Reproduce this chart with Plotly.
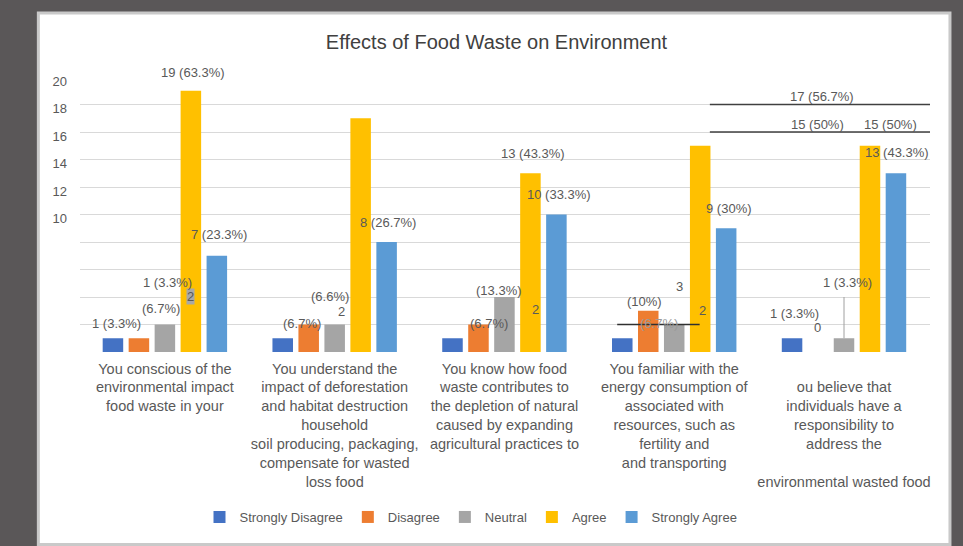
import plotly.graph_objects as go

# ---------------- data ----------------
categories = [
    "You conscious of the<br>environmental impact<br>food waste in your",
    "You understand the<br>impact of deforestation<br>and habitat destruction<br>household<br>soil producing, packaging,<br>compensate for wasted<br>loss food",
    "You know how food<br>waste contributes to<br>the depletion of natural<br>caused by expanding<br>agricultural practices to",
    "You familiar with the<br>energy consumption of<br>associated with<br>resources, such as<br>fertility and<br>and transporting",
    " <br>ou believe that<br>individuals have a<br>responsibility to<br>address the<br> <br>environmental wasted food",
]
series_names = ["Strongly Disagree", "Disagree", "Neutral", "Agree", "Strongly Agree"]
strongly_disagree = [1, 1, 1, 1, 1]
disagree = [1, 2, 2, 3, 0]
neutral = [2, 2, 4, 2, 1]
agree = [19, 17, 13, 15, 15]
strongly_agree = [7, 8, 10, 9, 13]
series_values = [strongly_disagree, disagree, neutral, agree, strongly_agree]

y_tick_values = [0, 2, 4, 6, 8, 10, 12, 14, 16, 18, 20]
y_tick_labels = ["", "", "", "", "", "10", "12", "14", "16", "18", "20"]

title_text = "Effects of Food Waste on Environment"

# data labels as they appear: (group, series, text)
bar_labels = [
    (0, 0, "1 (3.3%)"), (0, 2, "(6.7%)"), (0, 2, "2"), (0, 1, "1 (3.3%)"),
    (0, 4, "7 (23.3%)"), (0, 3, "19 (63.3%)"),
    (1, 1, "(6.7%)"), (1, 2, "(6.6%)"), (1, 2, "2"), (1, 4, "8 (26.7%)"),
    (1, 3, "17 (56.7%)"),
    (2, 1, "(6.7%)"), (2, 2, "(13.3%)"), (2, 1, "2"), (2, 3, "13 (43.3%)"),
    (2, 4, "10 (33.3%)"),
    (3, 1, "(10%)"), (3, 1, "3"), (3, 2, "2"), (3, 2, "(6.7%)"),
    (3, 4, "9 (30%)"), (3, 3, "15 (50%)"),
    (4, 0, "1 (3.3%)"), (4, 1, "0"), (4, 2, "1 (3.3%)"), (4, 3, "15 (50%)"),
    (4, 4, "13 (43.3%)"),
]
# pixel nudges of each label (dx, dy above the bar top)
label_nudges = [
    (4, 15), (-4, 16), (26, 28), (29, 56), (2, 21), (2, 18),
    (-7, 1), (-5, 28), (7, 13), (1, 20), (461, 22),
    (11, 1), (-5, 7), (57, 15), (3, 20), (3, 20),
    (-4, 9), (31, 24), (28, 14), (-15, 1), (3, 20), (117, 21),
    (2, 25), (-1, 25), (3, 56), (20, 21), (1, 21),
]

colors = ["#4472C4", "#ED7D31", "#A5A5A5", "#FFC000", "#5B9BD5"]
FONT = "Liberation Sans, Arial, sans-serif"
TXT = "#595959"
SLOT = 26  # pixel pitch of bars within a group

fig = go.Figure()
for name, vals, col in zip(series_names, series_values, colors):
    fig.add_trace(go.Bar(name=name, x=categories, y=vals, marker_color=col,
                         marker_line_width=0))

annotations = []
for i, ((g, s, txt), (dx, dy)) in enumerate(zip(bar_labels, label_nudges)):
    faded = (g == 3 and txt == "(6.7%)")
    boxed = (i == 2)
    annotations.append(dict(
        x=categories[g], y=series_values[s][g], xref="x", yref="y",
        text=txt, showarrow=False, xshift=(s - 2) * SLOT + dx, yshift=dy,
        bgcolor="#a8a8a8" if boxed else "rgba(0,0,0,0)", borderpad=0,
        font=dict(family=FONT, size=13, color="#9a9a9a" if faded else TXT),
    ))

shapes = [
    # white chart panel inside the dark frame
    dict(type="rect", xref="paper", yref="paper", x0=-0.049, x1=1.0235,
         y0=-0.70, y1=1.233, fillcolor="white", line=dict(color="#c9c9c9", width=3),
         layer="below"),
    # dark leader / underline segments
    dict(type="line", xref="paper", yref="y", x0=0.741, x1=1.0, y0=18, y1=18,
         line=dict(color="#404040", width=1.3)),
    dict(type="line", xref="paper", yref="y", x0=0.741, x1=1.0, y0=16, y1=16,
         line=dict(color="#404040", width=1.3)),
    dict(type="line", xref="paper", yref="y", x0=0.632, x1=0.729, y0=2, y1=2,
         line=dict(color="#303030", width=1.3)),
    dict(type="line", xref="x", yref="y", x0=categories[4], x1=categories[4],
         y0=neutral[4], y1=4, line=dict(color="#a0a0a0", width=1)),
]

fig.update_layout(
    width=963, height=546,
    margin=dict(l=80, r=33, t=77, b=194, autoexpand=False),
    paper_bgcolor="#5a5758", plot_bgcolor="rgba(0,0,0,0)",
    barmode="group", bargap=0.235, bargroupgap=0.21,
    font=dict(family=FONT, color=TXT),
    title=dict(text=title_text, x=0.49, xref="paper", xanchor="center",
               y=1 - 42 / 546, yanchor="middle",
               font=dict(family=FONT, size=20, color="#404040")),
    xaxis=dict(showgrid=False, zeroline=False, showline=False, tickangle=0,
               automargin=False, ticks="", ticklabelstandoff=6,
               tickfont=dict(family=FONT, size=14.5, color=TXT)),
    yaxis=dict(range=[0, 20], tickvals=y_tick_values, ticktext=y_tick_labels,
               showgrid=True, gridcolor="#d9d9d9", gridwidth=1, zeroline=False,
               showline=False, automargin=False, ticks="", ticklabelstandoff=12,
               ticklabelshift=4, tickfont=dict(family=FONT, size=13, color=TXT)),
    legend=dict(orientation="h", x=0.46, xanchor="center", y=-0.60, yanchor="middle",
                bgcolor="rgba(0,0,0,0)", font=dict(family=FONT, size=13, color=TXT),
                itemwidth=30, tracegroupgap=0),
    annotations=annotations,
    shapes=shapes,
    showlegend=True,
)

fig.write_html("out.html", config={"displayModeBar": False},
               post_script="document.body.style.margin='0';document.body.style.overflow='hidden';")
